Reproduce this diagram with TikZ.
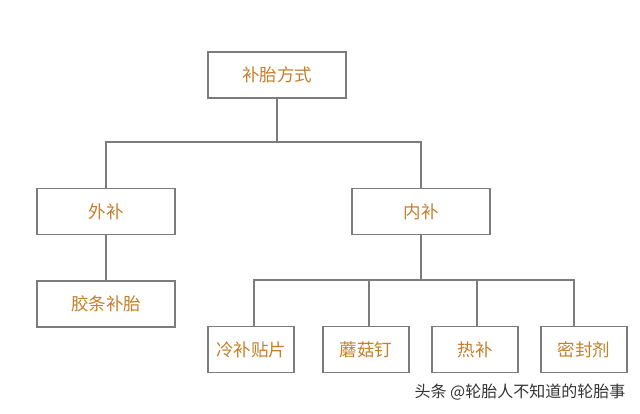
\documentclass[tikz,border=0pt]{standalone}
\usepackage{fontspec}
\newfontfamily\cjk{Noto Sans CJK SC}
\definecolor{labelorange}{HTML}{C47F2C}
\definecolor{boxgray}{HTML}{7C7C7C}

\begin{document}
\begin{tikzpicture}[x=1pt, y=-1pt,
  box/.style={draw=boxgray, line width=1.8pt, fill=white, minimum width=138pt,
    minimum height=46pt, text=labelorange, font=\cjk\fontsize{17.5}{20}\selectfont},
  smallbox/.style={box, minimum width=86pt},
  link/.style={draw=boxgray, line width=1.3pt}]
  \useasboundingbox (0,0) rectangle (640,414);

  % Boxes
  \node[box] (root) at (277,75) {补胎方式};
  \node[box] (outer) at (106,211.5) {外补};
  \node[box] (inner) at (421,211.5) {内补};
  \node[box] (strip) at (106,304) {胶条补胎};
  \node[smallbox] (patch) at (251,349.5) {冷补贴片};
  \node[smallbox] (plug) at (366,349.5) {蘑菇钉};
  \node[smallbox] (hot) at (475,349.5) {热补};
  \node[smallbox] (seal) at (584,349.5) {密封剂};

  % Connectors
  \coordinate (top) at (277,142);
  \coordinate (low) at (421,280);
  \draw[link] (root.south) -- (top);
  \draw[link] (outer.north) |- (top) -| (inner.north);
  \draw[link] (outer.south) -- (strip.north);
  \draw[link] (inner.south) -- (low);
  \draw[link] ([xshift=3pt]patch.north) |- (low);
  \draw[link] ([xshift=3pt]plug.north) |- (low);
  \draw[link] ([xshift=2pt]hot.north) |- (low);
  \draw[link] ([xshift=-10pt]seal.north) |- (low);

  % Watermark
  \node[text=black!80, font=\cjk\fontsize{16}{18}\selectfont] (mark) at (520,392) {头条 @轮胎人不知道的轮胎事};
\end{tikzpicture}
\end{document}
